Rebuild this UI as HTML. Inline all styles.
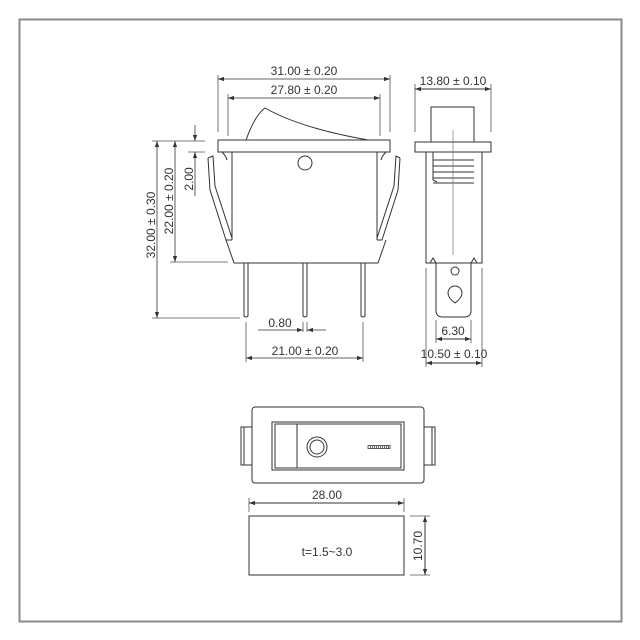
<!DOCTYPE html>
<html><head><meta charset="utf-8"><style>
html,body{margin:0;padding:0;background:#fff;}
svg{display:block;}
text{font-family:"Liberation Sans",sans-serif;font-size:12px;fill:#333;}
</style></head><body>
<svg width="640" height="640" viewBox="0 0 640 640" xmlns="http://www.w3.org/2000/svg">
<defs>
<marker id="a" viewBox="0 0 10 10" refX="10" refY="5" markerWidth="8" markerHeight="6" orient="auto-start-reverse" markerUnits="userSpaceOnUse"><path d="M0,1.5 L10,5 L0,8.5z" fill="#333"/></marker>
</defs>
<rect x="19.5" y="19.5" width="602" height="602" fill="#fff" stroke="#8a8a8a" stroke-width="2"/>
<g stroke="#333" stroke-width="1" fill="none">
<path d="M246,140 Q255,115 265,108 Q300,128 368,140"/>
<rect x="218" y="140" width="172" height="12" fill="#fff"/>
<path d="M232,152 V240 M377,152 V240"/>
<path d="M226,240 L234,263 H378 L386,240"/>
<path d="M222,152 Q226,156 227,160 M386,152 Q382,156 381,160"/>
<circle cx="305" cy="163" r="7"/>
<path d="M208,158 L213,156 L215,186 L232,238 M208,158 L210,190 L226,240 L232,240"/>
<path d="M400,158 L396,156 L394,186 L377,238 M400,158 L398,190 L382,240 L377,240"/>
<path d="M244,263 V316 Q246,318 248,316 V263 M303,263 V316 Q305,318 307,316 V263 M361,263 V316 Q363,318 365,316 V263"/>
<g stroke="#555" stroke-width="0.8">
<path d="M218,75 V132 M390,75 V132 M228,94 V136 M380,94 V136"/>
<path d="M152,141 H205 M170,262 H228 M152,318 H240 M188,152 H205"/>
<path d="M246,322 V362 M363,322 V362 M303,322 V332 M307,322 V332"/>
</g>
<g stroke="#333" stroke-width="0.8">
<line x1="218" y1="79" x2="390" y2="79" marker-start="url(#a)" marker-end="url(#a)"/>
<line x1="228" y1="98" x2="380" y2="98" marker-start="url(#a)" marker-end="url(#a)"/>
<line x1="157" y1="141" x2="157" y2="318" marker-start="url(#a)" marker-end="url(#a)"/>
<line x1="175" y1="141" x2="175" y2="262" marker-start="url(#a)" marker-end="url(#a)"/>
<line x1="195" y1="125" x2="195" y2="141" marker-end="url(#a)"/>
<line x1="195" y1="196" x2="195" y2="152" marker-end="url(#a)"/>
<line x1="258" y1="330" x2="303" y2="330" marker-end="url(#a)"/>
<line x1="326" y1="330" x2="307" y2="330" marker-end="url(#a)"/>
<line x1="246" y1="358" x2="363" y2="358" marker-start="url(#a)" marker-end="url(#a)"/>
</g>
<rect x="431" y="107" width="43" height="35"/>
<rect x="415" y="142" width="76" height="10" fill="#fff"/>
<rect x="426" y="152" width="56" height="111"/>
<path d="M433,160 H474 M433,166 H474 M433,172 H474 M433,178 H474 M433,183 H474 M433,152 V180 L437,182"/>
<path d="M453,130 V255" stroke="#777" stroke-width="0.7"/>
<path d="M436,263 V312 Q437,317 442,317 H465 Q470,317 471,312 V263"/>
<path d="M430,263 L433,258 L436,263 M477,263 L474,258 L471,263"/>
<circle cx="455" cy="271" r="4"/>
<path d="M455,303 Q448,298 448,293 A7,7 0 1,1 462,293 Q462,298 455,303z"/>
<g stroke="#555" stroke-width="0.8">
<path d="M415,84 V132 M491,84 V132 M426,268 V367 M482,268 V367 M436,320 V343 M471,320 V343"/>
</g>
<line x1="415" y1="89" x2="491" y2="89" marker-start="url(#a)" marker-end="url(#a)"/>
<line x1="436" y1="339" x2="471" y2="339" marker-start="url(#a)" marker-end="url(#a)"/>
<line x1="426" y1="363" x2="482" y2="363" marker-start="url(#a)" marker-end="url(#a)"/>
<rect x="241" y="427" width="11" height="38"/>
<path d="M244,427 V465"/>
<rect x="424" y="427" width="11" height="38"/>
<path d="M432,427 V465"/>
<rect x="252" y="407" width="172" height="76" rx="3" fill="#fff"/>
<rect x="272" y="422" width="132" height="48"/>
<rect x="275" y="424" width="126" height="44"/>
<path d="M297,424 V468"/>
<circle cx="317" cy="447" r="10"/>
<circle cx="317" cy="447" r="7"/>
<rect x="368" y="445.5" width="22" height="3" stroke-width="0.8"/>
<path d="M370,447 H389" stroke-dasharray="1,1" stroke-width="1.5"/>
<g stroke="#555" stroke-width="0.8"><path d="M249,498 V512 M404,498 V512 M410,516 H430 M410,575 H430"/></g>
<line x1="249" y1="503" x2="404" y2="503" marker-start="url(#a)" marker-end="url(#a)"/>
<rect x="249" y="516" width="155" height="59"/>
<line x1="425" y1="516" x2="425" y2="575" marker-start="url(#a)" marker-end="url(#a)"/>
</g>
<g text-anchor="middle">
<text x="304" y="75">31.00 ± 0.20</text>
<text x="304" y="94">27.80 ± 0.20</text>
<text x="280" y="327">0.80</text>
<text x="305" y="355">21.00 ± 0.20</text>
<text x="453" y="85">13.80 ± 0.10</text>
<text x="453" y="335">6.30</text>
<text x="454" y="358">10.50 ± 0.10</text>
<text x="327" y="499">28.00</text>
<text x="327" y="556">t=1.5~3.0</text>
<text transform="translate(155,225) rotate(-90)">32.00 ± 0.30</text>
<text transform="translate(173,201) rotate(-90)">22.00 ± 0.20</text>
<text transform="translate(193,179) rotate(-90)">2.00</text>
<text transform="translate(422,546) rotate(-90)">10.70</text>
</g>
</svg>
</body></html>
